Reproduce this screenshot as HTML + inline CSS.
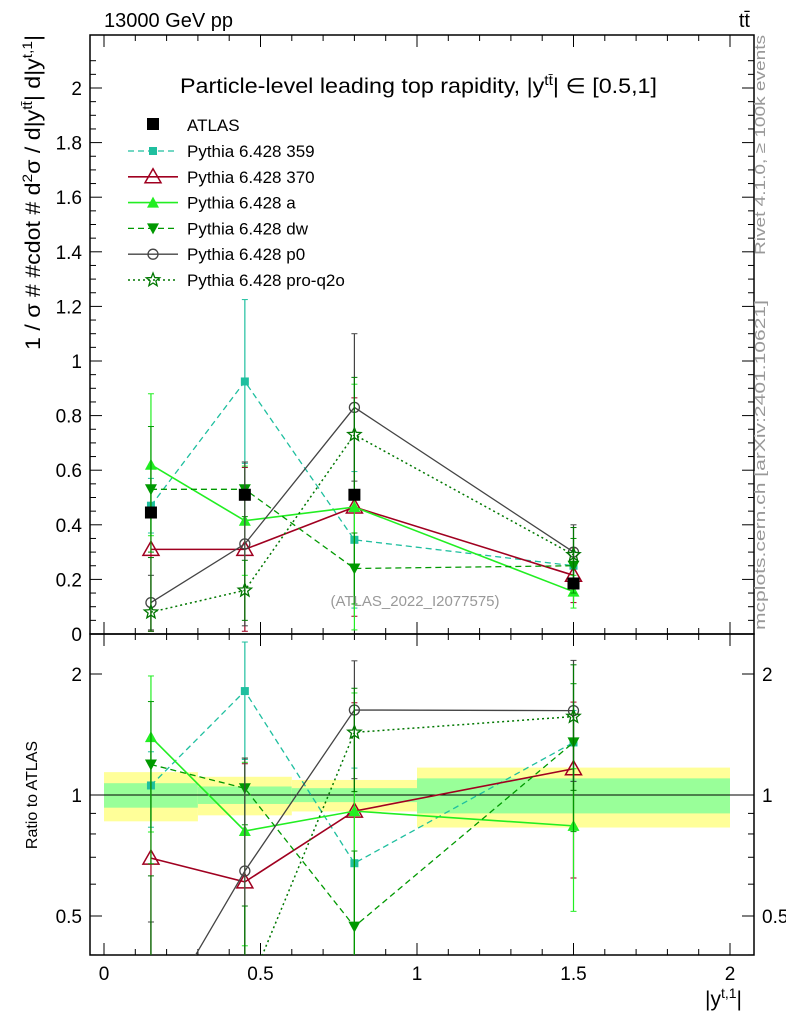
<!DOCTYPE html>
<html><head><meta charset="utf-8"><style>
html,body{margin:0;background:#fff;overflow:hidden;width:786px;height:1024px}
svg{display:block;font-family:"Liberation Sans",sans-serif;overflow:hidden;position:absolute;left:0;top:0}
</style></head><body>
<svg id="c" width="786" height="1024" xmlns="http://www.w3.org/2000/svg"></svg>
<script>
const xs=[0.15,0.45,0.8,1.5];
const atlas=[0.445,0.51,0.51,0.185];
const atlasErr=[0.02,0.02,0.02,0.01];
const seriesNames=["Pythia 6.428 359","Pythia 6.428 370","Pythia 6.428 a","Pythia 6.428 dw","Pythia 6.428 p0","Pythia 6.428 pro-q2o"];
const v359=[0.47,0.925,0.345,0.25];
const v370=[0.31,0.31,0.465,0.215];
const vA=[0.62,0.415,0.465,0.155];
const vDw=[0.53,0.53,0.24,0.25];
const vP0=[0.115,0.33,0.83,0.30];
const vQ2o=[0.08,0.16,0.73,0.29];
const e359=[0.1,0.3,0.25,0.05];
const e370=[0.3,0.3,0.4,0.1];
const eA=[0.26,0.2,0.45,0.06];
const eDw=[0.23,0.1,0.13,0.1];
const eP0=[0.1,0.3,0.27,0.1];
const eQ2o=[0.2,0.11,0.21,0.1];
const bandEdges=[0,0.3,0.6,1,2];
const bandYellow=[0.14,0.11,0.09,0.17];
const bandGreen=[0.07,0.05,0.04,0.1];
const yTicks=[0,0.2,0.4,0.6,0.8,1,1.2,1.4,1.6,1.8,2];
const rTicks=[0.5,1,2];
const xTicks=[0,0.5,1,1.5,2];

const svg=document.getElementById('c');
const NS="http://www.w3.org/2000/svg";
function el(t,a,p){const e=document.createElementNS(NS,t);for(const k in a)e.setAttribute(k,a[k]);(p||svg).appendChild(e);return e;}
const X=v=>104+v*313;
const Y=v=>634-v*273;
const R=r=>795-121*Math.log2(r);
const L=90,Rt=754,T=35,M=634,B=955;

for(let i=0;i<4;i++){
 const b1=el('rect',{x:X(bandEdges[i]),width:X(bandEdges[i+1])-X(bandEdges[i]),y:R(1+bandYellow[i]),height:R(1-bandYellow[i])-R(1+bandYellow[i]),fill:'#ffff99'});
 
 const b2=el('rect',{x:X(bandEdges[i]),width:X(bandEdges[i+1])-X(bandEdges[i]),y:R(1+bandGreen[i]),height:R(1-bandGreen[i])-R(1+bandGreen[i]),fill:'#99ff99'});
 
}
el('line',{x1:L,x2:Rt,y1:R(1),y2:R(1),stroke:'#000'});

const f1=el('rect',{x:L,y:T,width:Rt-L,height:M-T,fill:'none',stroke:'#000','stroke-width':1.5});

const f2=el('rect',{x:L,y:M,width:Rt-L,height:B-M,fill:'none',stroke:'#000','stroke-width':1.5});


for(let v=0;v<=2.15;v+=0.05){const y=Y(v);if(y<T)break;const maj=Math.abs(v*5-Math.round(v*5))<1e-6;
 el('line',{x1:L,x2:L+(maj?12:6),y1:y,y2:y,stroke:'#000'});el('line',{x1:Rt,x2:Rt-(maj?12:6),y1:y,y2:y,stroke:'#000'});}
yTicks.forEach(v=>{const t=el('text',{x:L-8,y:Y(v)+7,'text-anchor':'end','font-size':19});t.textContent=String(v);
 });
[0.4,0.5,0.6,0.7,0.8,0.9,1,2].forEach(v=>{const maj=rTicks.includes(v);const y=R(v);
 el('line',{x1:L,x2:L+(maj?12:6),y1:y,y2:y,stroke:'#000'});el('line',{x1:Rt,x2:Rt-(maj?12:6),y1:y,y2:y,stroke:'#000'});});
rTicks.forEach(v=>{const t=el('text',{x:L-8,y:R(v)+7,'text-anchor':'end','font-size':19});t.textContent=String(v);
 
 const t2=el('text',{x:Rt+8,y:R(v)+7,'font-size':19});t2.textContent=String(v);
 });
for(let k=0;k<=20;k++){const v=k/10;const x=X(v);const maj=k%5===0;
 el('line',{x1:x,x2:x,y1:B,y2:B-(maj?12:6),stroke:'#000'});el('line',{x1:x,x2:x,y1:M,y2:M-(maj?12:6),stroke:'#000'});
 el('line',{x1:x,x2:x,y1:T,y2:T+(maj?12:6),stroke:'#000'});el('line',{x1:x,x2:x,y1:M,y2:M+(maj?12:6),stroke:'#000'});}
xTicks.forEach(v=>{const t=el('text',{x:X(v),y:980,'text-anchor':'middle','font-size':19});t.textContent=String(v);
 });

const defs=el('defs',{});
const cp1=el('clipPath',{id:'cm'},defs);el('rect',{x:L,y:T,width:Rt-L,height:M-T},cp1);
const cp2=el('clipPath',{id:'cr'},defs);el('rect',{x:L,y:M,width:Rt-L,height:B-M},cp2);
const gm=el('g',{'clip-path':'url(#cm)'});const gr=el('g',{'clip-path':'url(#cr)'});

function marker(g,type,x,y,c){
 if(type==='sq')el('rect',{x:x-4,y:y-4,width:8,height:8,fill:c},g);
 else if(type==='bsq')el('rect',{x:x-6,y:y-6,width:12,height:12,fill:c},g);
 else if(type==='otri')el('path',{d:`M${x},${y-8}L${x+8},${y+6}L${x-8},${y+6}Z`,fill:'none',stroke:c,'stroke-width':1.5},g);
 else if(type==='tri')el('path',{d:`M${x},${y-6}L${x+6},${y+5}L${x-6},${y+5}Z`,fill:c},g);
 else if(type==='itri')el('path',{d:`M${x},${y+6}L${x+6},${y-5}L${x-6},${y-5}Z`,fill:c},g);
 else if(type==='circ')el('circle',{cx:x,cy:y,r:5,fill:'none',stroke:c,'stroke-width':1.3},g);
 else if(type==='star'){let d='';for(let i=0;i<10;i++){const r=i%2?3:7,a=-Math.PI/2+i*Math.PI/5;d+=(i?'L':'M')+(x+r*Math.cos(a))+','+(y+r*Math.sin(a));}
  el('path',{d:d+'Z',fill:'none',stroke:c,'stroke-width':1.3},g);}
}
const series=[
 {v:v359,e:e359,c:'#1fbf9f',dash:'6,4',m:'sq',w:1.3},
 {v:v370,e:e370,c:'#a00020',dash:'',m:'otri',w:1.6},
 {v:vA,e:eA,c:'#22ee22',dash:'',m:'tri',w:1.6},
 {v:vDw,e:eDw,c:'#009900',dash:'6,4',m:'itri',w:1.3},
 {v:vP0,e:eP0,c:'#444444',dash:'',m:'circ',w:1.3},
 {v:vQ2o,e:eQ2o,c:'#007700',dash:'2,3',m:'star',w:1.5}];
series.forEach((s,si)=>{
 [[gm,Y,i=>s.v[i],i=>s.e[i]],[gr,R,i=>s.v[i]/atlas[i],i=>s.e[i]/atlas[i]]].forEach(([g,F,val,err],pi)=>{
  const sg=el('g',{},g);
  
  xs.forEach((x,i)=>{const v=val(i),e=err(i);const lo=Math.max(v-e,0.01);
   el('line',{x1:X(x),x2:X(x),y1:F(v+e),y2:F(lo),stroke:s.c,'stroke-width':1.2},sg);
   [v+e,lo].forEach(q=>el('line',{x1:X(x)-3,x2:X(x)+3,y1:F(q),y2:F(q),stroke:s.c},sg));});
  el('polyline',{points:xs.map((x,i)=>X(x)+','+F(Math.max(val(i),0.01))).join(' '),fill:'none',stroke:s.c,'stroke-width':s.w,'stroke-dasharray':s.dash},sg);
  xs.forEach((x,i)=>marker(sg,s.m,X(x),F(Math.max(val(i),0.01)),s.c));
 });
});
const ag=el('g',{},gm);
xs.forEach((x,i)=>{el('line',{x1:X(x),x2:X(x),y1:Y(atlas[i]+atlasErr[i]),y2:Y(atlas[i]-atlasErr[i]),stroke:'#000'},ag);marker(ag,'bsq',X(x),Y(atlas[i]),'#000');});

const lg=el('g',{});
marker(lg,'bsq',153,124,'#000');
let t=el('text',{x:187,y:131,'font-size':17},lg);t.textContent='ATLAS';
series.forEach((s,i)=>{const y=151+i*25.8;
 const e=el('g',{},lg);
 el('line',{x1:128,x2:178,y1:y,y2:y,stroke:s.c,'stroke-width':s.w,'stroke-dasharray':s.dash},e);
 marker(e,s.m,153,y,s.c);
 const tt=el('text',{x:187,y:y+6,'font-size':17},e);tt.textContent=seriesNames[i];});

function txt(x,y,s,a,name){const e=el('text',Object.assign({x:x,y:y},a));e.innerHTML=s;return e;}
txt(104,27,'13000 GeV pp',{'font-size':20},'energy-label');
txt(750,27,'tt̄',{'font-size':20,'text-anchor':'end'},'process-label');
txt(180,93,'Particle-level leading top rapidity, |y<tspan dy="-8" font-size="14">tt̄</tspan><tspan dy="8">| ∈ [0.5,1]</tspan>',{'font-size':21,'textLength':477,'lengthAdjust':'spacingAndGlyphs'},'plot-title');
txt(415,606,'(ATLAS_2022_I2077575)',{'font-size':15,fill:'#999','text-anchor':'middle'},'analysis-id');
txt(742,1006,'|y<tspan dy="-8" font-size="14">t,1</tspan><tspan dy="8">|</tspan>',{'font-size':21,'text-anchor':'end'},'x-axis-title');
txt(0,0,'1 / σ # #cdot # d<tspan dy="-8" font-size="14">2</tspan><tspan dy="8">σ / d|y</tspan><tspan dy="-8" font-size="14">tt̄</tspan><tspan dy="8">| d|y</tspan><tspan dy="-8" font-size="14">t,1</tspan><tspan dy="8">|</tspan>',{'font-size':21,transform:'translate(40,350) rotate(-90)','textLength':315,'lengthAdjust':'spacingAndGlyphs'},'y-axis-title');
txt(0,0,'Ratio to ATLAS',{'font-size':16,'text-anchor':'middle',transform:'translate(37,795) rotate(-90)'},'ratio-axis-title');
txt(0,0,'Rivet 4.1.0, ≥ 100k events',{'font-size':15,fill:'#999',transform:'translate(765,255) rotate(-90)','textLength':220,'lengthAdjust':'spacingAndGlyphs'},'rivet-label');
txt(0,0,'mcplots.cern.ch [arXiv:2401.10621]',{'font-size':15,fill:'#999',transform:'translate(765,630) rotate(-90)','textLength':330,'lengthAdjust':'spacingAndGlyphs'},'mcplots-label');
</script>
</body></html>
